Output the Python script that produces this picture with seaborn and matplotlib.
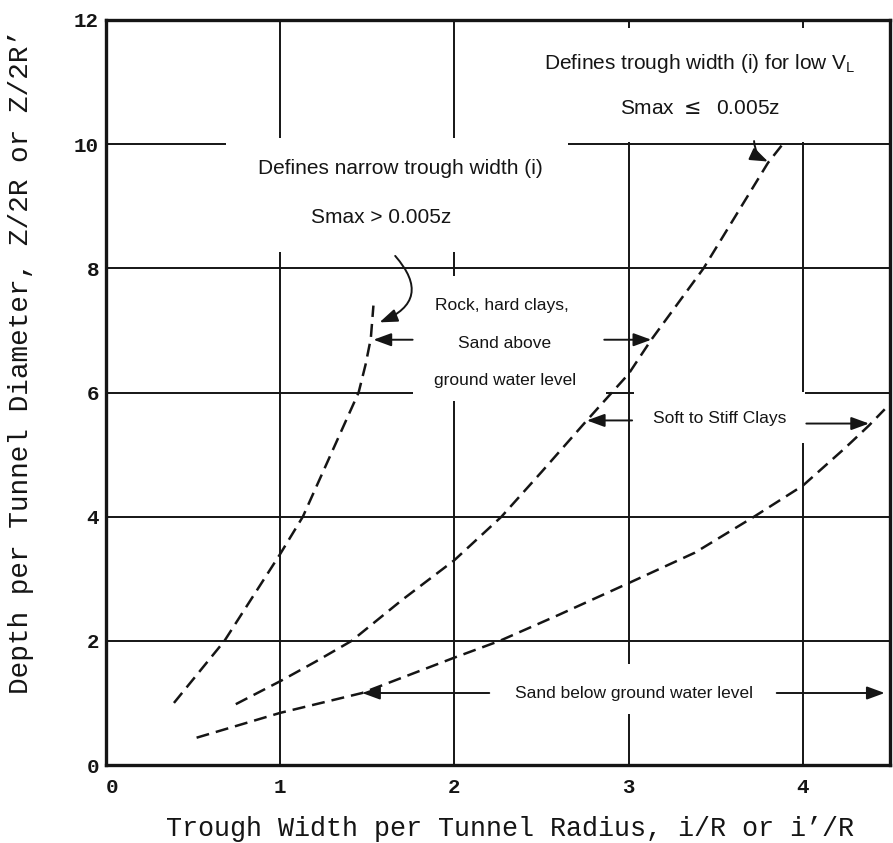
import matplotlib
matplotlib.use("Agg")
import matplotlib.pyplot as plt
import seaborn as sns
from matplotlib.patches import Rectangle

# Curves: trough width i/R vs depth z/2R
narrow_x = [0.39, 0.68, 1.0, 1.13, 1.29, 1.37, 1.45, 1.49, 1.52, 1.535]
narrow_y = [1.0, 2.0, 3.4, 4.0, 5.0, 5.5, 6.0, 6.45, 6.87, 7.4]

clay_x = [0.745, 1.0, 1.2, 1.41, 1.7, 2.0, 2.27, 2.5, 2.76, 3.0, 3.13, 3.43, 3.8, 3.89]
clay_y = [0.98, 1.35, 1.66, 2.0, 2.66, 3.3, 4.0, 4.72, 5.55, 6.3, 6.85, 8.0, 9.7, 10.02]

sand_x = [0.52, 1.0, 1.47, 2.0, 2.26, 2.6, 3.0, 3.38, 3.72, 4.0, 4.24, 4.38, 4.47]
sand_y = [0.44, 0.84, 1.16, 1.73, 2.0, 2.42, 2.93, 3.42, 4.0, 4.5, 5.1, 5.47, 5.73]

x_ticks = [0, 1, 2, 3, 4]
y_ticks = [0, 2, 4, 6, 8, 10, 12]

ink = "#151515"

sns.set_theme(style="whitegrid", rc={
    "axes.edgecolor": ink,
    "axes.linewidth": 2.4,
    "grid.color": ink,
    "grid.linewidth": 1.4,
    "xtick.major.size": 0,
    "ytick.major.size": 0,
})
plt.rcParams["font.family"] = ["Liberation Sans", "DejaVu Sans"]

fig = plt.figure(figsize=(8.93, 8.43), dpi=100)
ax = fig.add_axes([0.1187, 0.0925, 0.8779, 0.8838])

dash = (0, (5.2, 2.8))
for xs, ys in [(narrow_x, narrow_y), (clay_x, clay_y), (sand_x, sand_y)]:
    sns.lineplot(x=xs, y=ys, ax=ax, color=ink, linewidth=1.8,
                 linestyle=dash, sort=False, estimator=None, zorder=3)

ax.set_xlim(0, 4.5)
ax.set_ylim(0, 12)
ax.set_xticks(x_ticks)
ax.set_yticks(y_ticks)
ax.set_xticklabels([str(v) for v in x_ticks])
ax.set_yticklabels([str(v) for v in y_ticks])
for lab in ax.get_xticklabels() + ax.get_yticklabels():
    lab.set_family("Liberation Mono")
    lab.set_fontweight("bold")
    lab.set_fontsize(15)
    lab.set_color(ink)
ax.get_xticklabels()[0].set_ha("left")
ax.tick_params(axis="x", pad=9)
ax.tick_params(axis="y", pad=5)

# blank patches of the grid behind the labels
knockouts = [
    (2.1, 4.49, 10.04, 11.87),
    (0.69, 2.65, 8.26, 10.1),
    (1.76, 2.87, 5.87, 7.87),
    (3.03, 4.015, 5.19, 6.015),
    (2.9, 3.1, 0.82, 1.63),
]
for x0, x1, y0, y1 in knockouts:
    ax.add_patch(Rectangle((x0, y0), x1 - x0, y1 - y0, facecolor="white",
                           edgecolor="none", zorder=1.5))

txt = dict(ha="center", va="center", color=ink, zorder=4)
ax.text(3.41, 11.3, r"Defines trough width (i) for low V$_\mathregular{L}$", fontsize=15, **txt)
ax.text(3.41, 10.58, "Smax $\\leq$  0.005z", fontsize=15, **txt)
ax.text(1.69, 9.61, "Defines narrow trough width (i)", fontsize=15, **txt)
ax.text(1.58, 8.82, "Smax > 0.005z", fontsize=15, **txt)
ax.text(2.27, 7.4, "Rock, hard clays,", fontsize=12.5, **txt)
ax.text(2.29, 6.79, "Sand above", fontsize=12.5, **txt)
ax.text(2.29, 6.19, "ground water level", fontsize=12.5, **txt)
ax.text(3.52, 5.58, "Soft to Stiff Clays", fontsize=12.5, **txt)
ax.text(3.03, 1.16, "Sand below ground water level", fontsize=12.5, **txt)

arrow = dict(arrowstyle="-|>,head_length=0.6,head_width=0.22", color=ink,
             lw=1.4, mutation_scale=18, shrinkA=0, shrinkB=0)
arrows = [
    ((1.76, 6.85), (1.535, 6.85)),
    ((2.86, 6.85), (3.13, 6.85)),
    ((3.02, 5.55), (2.76, 5.55)),
    ((4.02, 5.5), (4.38, 5.5)),
    ((2.2, 1.16), (1.47, 1.16)),
    ((3.85, 1.16), (4.47, 1.16)),
]
for tail, head in arrows:
    ax.annotate("", xy=head, xytext=tail, arrowprops=arrow, zorder=4)

ax.annotate("", xy=(1.57, 7.13), xytext=(1.66, 8.2),
            arrowprops=dict(arrow, connectionstyle="arc3,rad=-0.7"), zorder=4)
ax.annotate("", xy=(3.8, 9.72), xytext=(3.72, 10.05),
            arrowprops=dict(arrow, connectionstyle="arc3,rad=0.3"), zorder=4)

ax.set_xlabel("Trough Width per Tunnel Radius, i/R or i\u2019/R",
              family="Liberation Mono", fontsize=19.3, color=ink)
ax.set_ylabel("Depth per Tunnel Diameter, Z/2R or Z/2R\u2019",
              family="Liberation Mono", fontsize=20, color=ink)
ax.xaxis.set_label_coords(0.515, -0.068)
ax.yaxis.set_label_coords(-0.092, 0.541)

fig.savefig("out.png", dpi=100)
plt.close(fig)
